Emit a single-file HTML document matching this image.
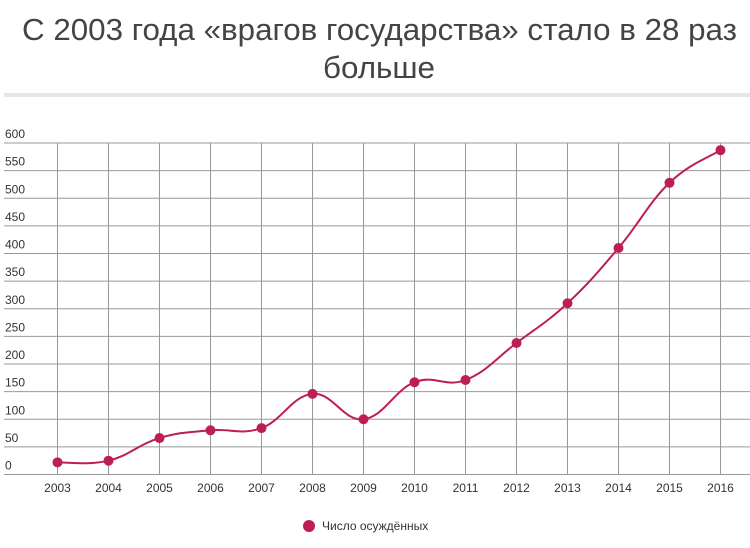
<!DOCTYPE html>
<html><head><meta charset="utf-8"><style>
body{margin:0;background:#fff;}
svg{display:block;font-family:"Liberation Sans",sans-serif;}
</style></head><body>
<svg id="chart" width="750" height="548" viewBox="0 0 750 548">
<text x="22" y="40" font-size="31" fill="#444" textLength="715" lengthAdjust="spacingAndGlyphs">С 2003 года «врагов государства» стало в 28 раз</text>
<text x="323" y="78" font-size="31" fill="#444" textLength="112" lengthAdjust="spacingAndGlyphs">больше</text>
<rect x="4" y="93" width="746" height="4" fill="#e6e6e6"/>
<g id="grid"></g><g id="series"></g>
<circle cx="309" cy="526" r="6" fill="#be1e56"/>
<text x="322" y="530" font-size="12" fill="#333">Число осуждённых</text>
</svg>
<script>
const years=["2003","2004","2005","2006","2007","2008","2009","2010","2011","2012","2013","2014","2015","2016"];
const convicted=[22,25,66,80,84,146,100,167,171,238,310,410,528,587];
const yTicks=[0,50,100,150,200,250,300,350,400,450,500,550,600];
const NS="http://www.w3.org/2000/svg";
const x0=57.5,dx=51,yBase=474.5,yTop=143,yMax=600;
const xs=i=>x0+i*dx;
const ys=v=>yBase-(v/yMax)*(yBase-yTop);
const grid=document.getElementById('grid'),ser=document.getElementById('series');
function mk(t,a,p){const e=document.createElementNS(NS,t);for(const k in a)e.setAttribute(k,a[k]);p.appendChild(e);return e;}
yTicks.forEach(v=>{
 const l=mk('line',{x1:4,x2:750,y1:ys(v),y2:ys(v),stroke:'#999','stroke-width':1},grid);
 
 
 const t=mk('text',{x:5,y:ys(v)-5,'font-size':12,fill:'#333'},grid);
 t.textContent=v;
 
 
});
years.forEach((y,i)=>{
 const l=mk('line',{x1:xs(i),x2:xs(i),y1:yTop,y2:yBase,stroke:'#999','stroke-width':1},grid);
 
 
 const t=mk('text',{x:xs(i),y:492,'font-size':12,fill:'#333','text-anchor':'middle'},grid);
 t.textContent=y;
 
 
});
const pts=convicted.map((v,i)=>[xs(i),ys(v)]);
let d=`M${pts[0][0]},${pts[0][1]}`;
const s=1.5;
for(let i=0;i<pts.length-1;i++){
 const p0=pts[Math.max(i-1,0)],p1=pts[i],p2=pts[i+1],p3=pts[Math.min(i+2,pts.length-1)];
 const c1=[p1[0]+(p2[0]-p0[0])/(2*(s+1)),p1[1]+(p2[1]-p0[1])/(2*(s+1))];
 const c2=[p2[0]-(p3[0]-p1[0])/(2*(s+1)),p2[1]-(p3[1]-p1[1])/(2*(s+1))];
 d+=` C${c1[0]},${c1[1]} ${c2[0]},${c2[1]} ${p2[0]},${p2[1]}`;
}
const path=mk('path',{d:d,fill:'none',stroke:'#be1e56','stroke-width':2},ser);


pts.forEach(p=>{
 const c=mk('circle',{cx:p[0],cy:p[1],r:5,fill:'#be1e56'},ser);
 
 
});
</script>
</body></html>
